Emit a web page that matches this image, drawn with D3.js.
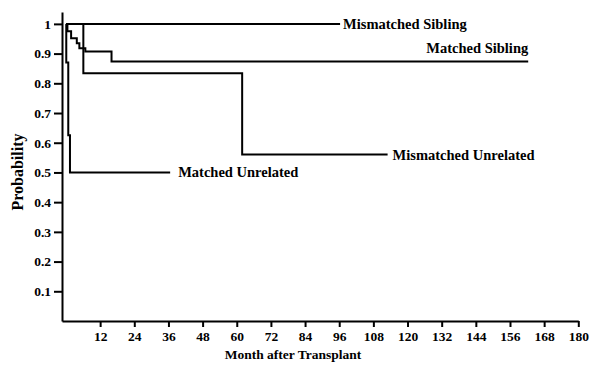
<!DOCTYPE html>
<html>
<head>
<meta charset="utf-8">
<script src="https://cdn.jsdelivr.net/npm/d3@7"></script>
<style>
  body { margin: 0; background: #fff; }
  text { font-family: "Liberation Serif", "DejaVu Serif", serif; font-weight: bold; fill: #000; }
</style>
</head>
<body>
<script>
// survival steps: [month, probability]
const mismatchedSibling = [[0, 1], [96.3, 1]]
const matchedSibling = [[0, 1], [0.5, 0.975], [1.8, 0.952], [3.8, 0.935], [4.7, 0.918], [6.8, 0.907], [16, 0.873], [162.4, 0.873]]
const mismatchedUnrelated = [[0, 1], [6.1, 0.834], [61.9, 0.56], [113, 0.56]]
const matchedUnrelated = [[0, 1], [0.1, 0.87], [0.8, 0.625], [1.4, 0.5], [36.6, 0.5]]

const seriesNames = ["Mismatched Sibling", "Matched Sibling", "Mismatched Unrelated", "Matched Unrelated"]
const xTicks = [12, 24, 36, 48, 60, 72, 84, 96, 108, 120, 132, 144, 156, 168, 180]
const yTicks = [0.1, 0.2, 0.3, 0.4, 0.5, 0.6, 0.7, 0.8, 0.9, 1]

const w = 594
const h = 368

const svg = d3.select("body")
  .append("svg")
  .attr("width", w)
  .attr("height", h)

const xScale = d3.scaleLinear()
  .domain([-1.4, 180])
  .range([62, 578.3])

const yScale = d3.scaleLinear()
  .domain([0, 1.04])
  .range([321, 12])

const xAxis = d3.axisBottom(xScale)
  .tickValues(xTicks)
  .tickFormat(d3.format("d"))
  .tickSize(6)
  .tickSizeOuter(0)
  .tickPadding(4)

const yAxis = d3.axisLeft(yScale)
  .tickValues(yTicks)
  .tickFormat(d => d == 1 ? "1" : d3.format(".1f")(d))
  .tickSize(8)
  .tickSizeOuter(0)
  .tickPadding(3)

const gx = svg.append("g")
  .attr("transform", "translate(0," + yScale(0) + ")")
  .call(xAxis)

const gy = svg.append("g")
  .attr("transform", "translate(" + xScale(-1.4) + ",0)")
  .call(yAxis)

gx.selectAll("path, line").attr("stroke", "#000").attr("stroke-width", 2)
gy.selectAll("path, line").attr("stroke", "#000").attr("stroke-width", 2)
gx.selectAll("text").attr("font-size", 13.5).attr("font-family", null).attr("fill", "#000")
gy.selectAll("text").attr("font-size", 13.5).attr("font-family", null).attr("fill", "#000")

const line = d3.line()
  .x(d => xScale(d[0]))
  .y(d => yScale(d[1]))
  .curve(d3.curveStepAfter)

const allSeries = [mismatchedSibling, matchedSibling, mismatchedUnrelated, matchedUnrelated]

svg.selectAll("path.curve")
  .data(allSeries)
  .enter()
  .append("path")
  .attr("class", "curve")
  .attr("d", line)
  .attr("fill", "none")
  .attr("stroke", "#000")
  .attr("stroke-width", 2)

// curve labels
const lastPt = s => s[s.length - 1]
svg.append("text")
  .attr("x", xScale(lastPt(mismatchedSibling)[0]) + 3)
  .attr("y", yScale(1) + 5)
  .attr("font-size", 14.5)
  .text(seriesNames[0])

svg.append("text")
  .attr("x", xScale(lastPt(matchedSibling)[0]))
  .attr("y", yScale(0.873) - 9)
  .attr("text-anchor", "end")
  .attr("font-size", 14.5)
  .text(seriesNames[1])

svg.append("text")
  .attr("x", xScale(lastPt(mismatchedUnrelated)[0]) + 5)
  .attr("y", yScale(0.56) + 5)
  .attr("font-size", 14.5)
  .text(seriesNames[2])

svg.append("text")
  .attr("x", xScale(lastPt(matchedUnrelated)[0]) + 8)
  .attr("y", yScale(0.5) + 5)
  .attr("font-size", 14.5)
  .text(seriesNames[3])

// axis titles
svg.append("text")
  .attr("x", 293)
  .attr("y", 359)
  .attr("text-anchor", "middle")
  .attr("font-size", 13.5)
  .text("Month after Transplant")

svg.append("text")
  .attr("transform", "translate(23,172) rotate(-90)")
  .attr("text-anchor", "middle")
  .attr("font-size", 16)
  .text("Probability")
</script>
</body>
</html>
